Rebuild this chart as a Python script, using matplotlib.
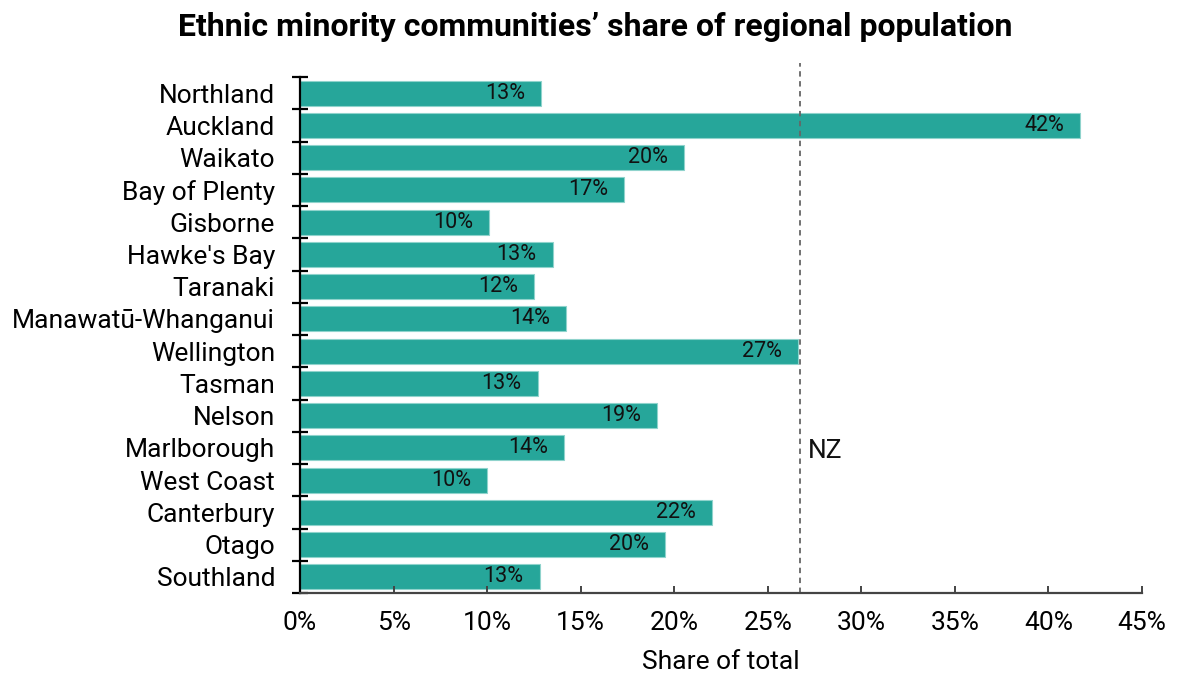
import matplotlib
matplotlib.use("Agg")
import matplotlib.pyplot as plt
import numpy as np
from matplotlib.ticker import FixedLocator, PercentFormatter
import matplotlib.transforms as mtransforms

plt.rcParams['font.family'] = ['Roboto', 'DejaVu Sans']

regions = ["Northland", "Auckland", "Waikato", "Bay of Plenty", "Gisborne",
           "Hawke's Bay", "Taranaki", "Manawatū-Whanganui", "Wellington",
           "Tasman", "Nelson", "Marlborough", "West Coast", "Canterbury",
           "Otago", "Southland"]
shares = [12.9, 41.7, 20.5, 17.3, 10.1, 13.5, 12.5, 14.2, 26.6, 12.7,
          19.1, 14.1, 10.0, 22.0, 19.5, 12.8]
labels = ["13%", "42%", "20%", "17%", "10%", "13%", "12%", "14%", "27%",
          "13%", "19%", "14%", "10%", "22%", "20%", "13%"]
nz_share = 26.7
x_ticks = [0, 5, 10, 15, 20, 25, 30, 35, 40, 45]

fig = plt.figure(figsize=(11.77, 6.77), dpi=100)
ax = fig.add_axes([300/1177, 1-593/677, 842/1177, 516/677])

y = np.arange(len(regions))
bars = ax.barh(y, shares, height=0.78, color="#26A69A",
               edgecolor="#8fd3cc", linewidth=0.8)
for yi, v, lab in zip(y, shares, labels):
    ax.annotate(lab, (v, yi), xytext=(-11.5, 0), textcoords="offset points",
                ha="right", va="center", fontsize=15.5, color="#111111")

ax.set_ylim(len(regions) - 0.5, -0.5)
ax.set_xlim(0, 45)

trans = mtransforms.blended_transform_factory(ax.transData, ax.transAxes)
ax.plot([nz_share, nz_share], [0, 1.028], transform=trans, color="#666666",
        linestyle=(0, (3, 2.5)), linewidth=1.3, clip_on=False)
ax.text(nz_share + 0.45, 11.1, "NZ", fontsize=19, ha="left", va="center",
        color="#111111")

ax.set_yticks(y)
ax.set_yticklabels(regions, fontsize=19)
ax.yaxis.set_minor_locator(FixedLocator(np.arange(-0.5, len(regions), 1.0)))
ax.tick_params(axis="y", which="major", length=0, pad=18)
ax.tick_params(axis="y", which="minor", direction="inout", length=12,
               width=1.6, color="black")

ax.set_xticks(x_ticks)
ax.xaxis.set_major_formatter(PercentFormatter(decimals=0))
ax.tick_params(axis="x", which="major", direction="in", length=5,
               width=1.4, color="#444444", labelsize=19, pad=13)
ax.set_xlabel("Share of total", fontsize=19, labelpad=11)

for s in ["top", "right"]:
    ax.spines[s].set_visible(False)
ax.spines["left"].set_color("black")
ax.spines["left"].set_linewidth(1.6)
ax.spines["bottom"].set_color("#444444")
ax.spines["bottom"].set_linewidth(1.6)

fig.text(595/1177, 1-27/677, "Ethnic minority communities’ share of regional population",
         ha="center", va="center", fontsize=23, fontweight="bold")

fig.savefig("out.png", dpi=100)
